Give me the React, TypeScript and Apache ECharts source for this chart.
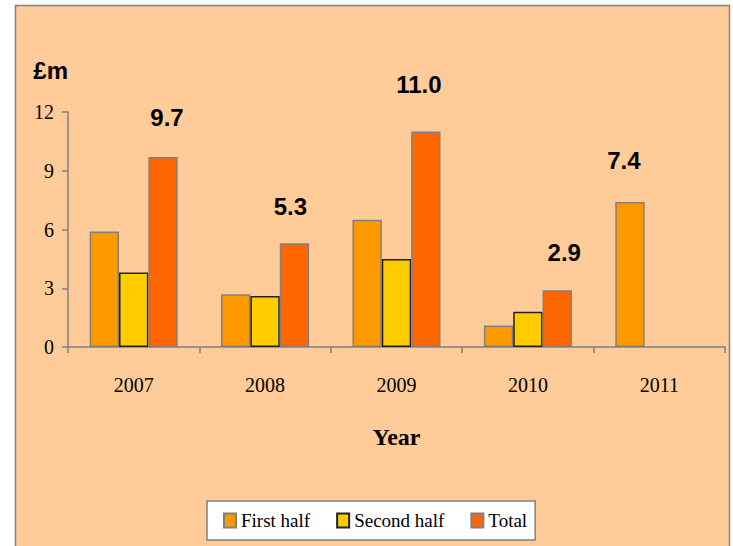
import React, { useEffect, useRef } from "react";
import * as echarts from "echarts";

const years = ["2007", "2008", "2009", "2010", "2011"];
const firstHalf = [5.9, 2.7, 6.5, 1.1, 7.4];
const secondHalf = [3.8, 2.6, 4.5, 1.8, null];
const total = [9.7, 5.3, 11.0, 2.9, null];
const yTicks = [0, 3, 6, 9, 12];

// label styling offsets (pixel nudges, presentation only)
const totalLabelOffsets = [[4, -28], [-4, -25], [-7, -35], [7, -26], [0, 0]];
const firstLabelOffset2011 = [-6, -30];

const SERIF = "'Liberation Serif', 'Times New Roman', serif";
const SANS = "'Liberation Sans', Arial, sans-serif";

export default function App() {
  const ref = useRef<HTMLDivElement>(null);
  useEffect(() => {
    const chart = echarts.init(ref.current!, undefined, { renderer: "svg" });
    const labelStyle = {
      show: true,
      position: "top",
      distance: 0,
      fontFamily: SANS,
      fontWeight: "bold",
      fontSize: 24,
      color: "#000",
      formatter: (p: any) => Number(p.value).toFixed(1),
    };
    chart.setOption({
      animation: false,
      backgroundColor: "#ffffff",
      textStyle: { fontFamily: SERIF, color: "#000" },
      graphic: [
        {
          type: "rect",
          z: -10,
          shape: { x: 15.5, y: 5.5, width: 714, height: 600 },
          style: { fill: "#FFCC99", stroke: "#808080", lineWidth: 1.5 },
        },
      ],
      grid: { left: 68, right: 8, top: 112, bottom: 199 },
      legend: {
        bottom: 6,
        left: 207,
        itemWidth: 12,
        itemHeight: 14,
        itemGap: 26,
        padding: [10, 8, 10, 16],
        backgroundColor: "#ffffff",
        borderColor: "#808080",
        borderWidth: 1.5,
        borderRadius: 0,
        icon: "rect",
        textStyle: {
          fontFamily: SERIF,
          fontSize: 19,
          color: "#000",
        },
        data: ["First half", "Second half", "Total"],
      },
      xAxis: {
        type: "category",
        data: years,
        name: "Year",
        nameLocation: "middle",
        nameGap: 78,
        nameTextStyle: {
          fontFamily: SERIF,
          fontWeight: "bold",
          fontSize: 24,
          color: "#000",
        },
        axisLine: { lineStyle: { color: "#808080", width: 1.5 } },
        axisTick: { show: true, length: 6, lineStyle: { color: "#808080", width: 1.5 } },
        axisLabel: {
          margin: 28,
          fontFamily: SERIF,
          fontSize: 20,
          color: "#000",
        },
      },
      yAxis: {
        type: "value",
        min: yTicks[0],
        max: yTicks[yTicks.length - 1],
        interval: 3,
        name: "£m",
        nameLocation: "end",
        nameGap: 30,
        nameTextStyle: {
          align: "right",
          fontFamily: SANS,
          fontWeight: "bold",
          fontSize: 24,
          color: "#000",
        },
        axisLine: { show: true, lineStyle: { color: "#808080", width: 1.5 } },
        axisTick: { show: true, length: 6, lineStyle: { color: "#808080", width: 1.5 } },
        splitLine: { show: false },
        axisLabel: {
          margin: 14,
          fontFamily: SERIF,
          fontSize: 20,
          color: "#000",
        },
      },
      series: [
        {
          name: "First half",
          type: "bar",
          barGap: "0%",
          barCategoryGap: "33%",
          itemStyle: { color: "#FF9900", borderColor: "#808080", borderWidth: 1.5 },
          data: firstHalf.map((v, i) =>
            i === 4
              ? { value: v, label: { ...labelStyle, offset: firstLabelOffset2011 } }
              : v
          ),
        },
        {
          name: "Second half",
          type: "bar",
          barGap: "0%",
          barCategoryGap: "33%",
          itemStyle: { color: "#FFCC00", borderColor: "#222222", borderWidth: 1.5 },
          data: secondHalf,
        },
        {
          name: "Total",
          type: "bar",
          barGap: "0%",
          barCategoryGap: "33%",
          itemStyle: { color: "#FF6600", borderColor: "#808080", borderWidth: 1.5 },
          data: total.map((v, i) =>
            v === null
              ? null
              : { value: v, label: { ...labelStyle, offset: totalLabelOffsets[i] } }
          ),
        },
      ],
    });
    return () => chart.dispose();
  }, []);
  return (
    <div
      ref={ref}
      style={{ position: "absolute", left: 0, top: 0, width: 733, height: 546 }}
    />
  );
}
